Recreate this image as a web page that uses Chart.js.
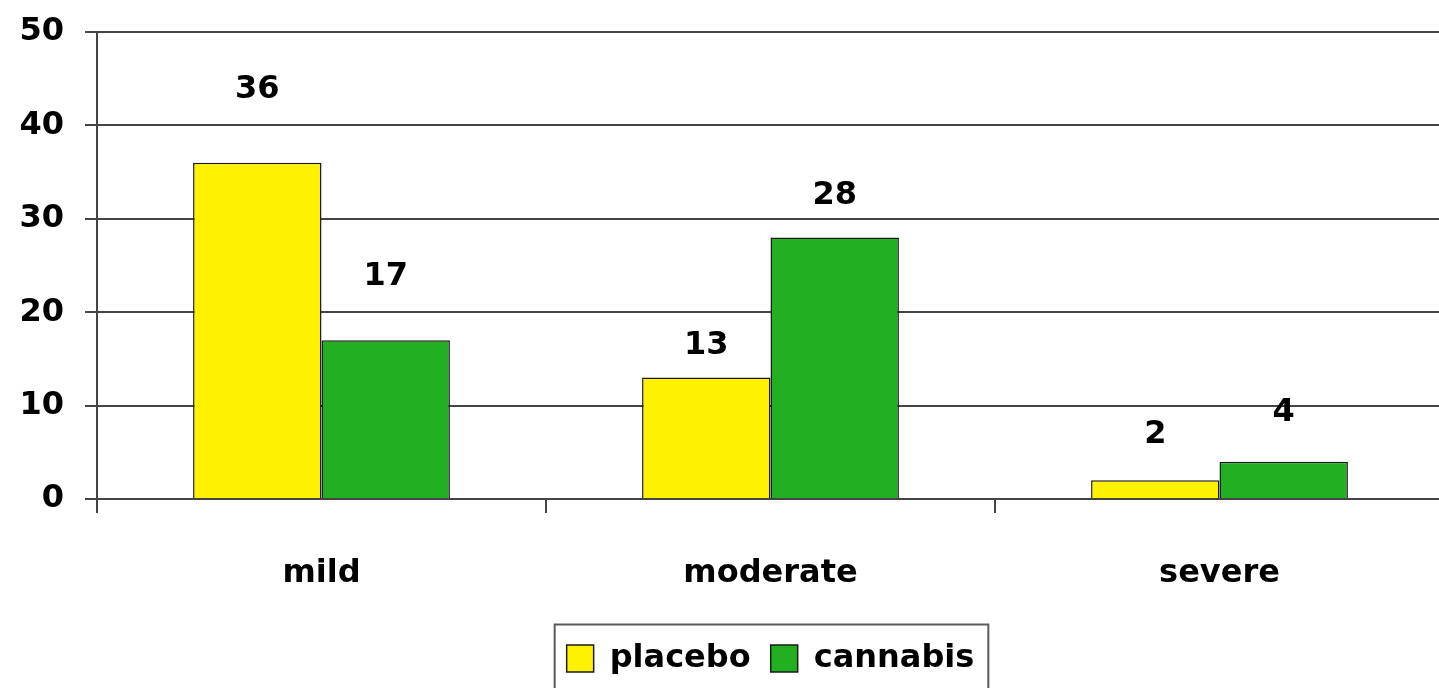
<!DOCTYPE html>
<html>
<head>
<meta charset="utf-8">
<script src="https://cdn.jsdelivr.net/npm/chart.js@4.4.1/dist/chart.umd.min.js"></script>
<style>
  html, body { margin: 0; padding: 0; background: #ffffff; overflow: hidden; }
  #wrap { width: 1450px; height: 688px; position: relative; }
</style>
</head>
<body>
<div id="wrap"><canvas id="chart"></canvas></div>
<script>
// Severity categories and counts per group
const categories = ['mild', 'moderate', 'severe'];
const placebo = [36, 13, 2];
const cannabis = [17, 28, 4];
const yTicks = [0, 10, 20, 30, 40, 50];

const FONT = { family: '"DejaVu Sans", sans-serif', size: 32, weight: 'bold' };
const LINE = '#444444';

// Value labels drawn above each bar, with a per-bar vertical lift (px)
const valueLabels = {
  id: 'valueLabels',
  afterDatasetsDraw(chart, args, opts) {
    const ctx = chart.ctx;
    ctx.save();
    ctx.font = `${FONT.weight} ${FONT.size}px ${FONT.family}`;
    ctx.fillStyle = '#000';
    ctx.textAlign = 'center';
    ctx.textBaseline = 'middle';
    chart.data.datasets.forEach((ds, di) => {
      chart.getDatasetMeta(di).data.forEach((bar, i) => {
        const lift = opts.lift[di][i];
        ctx.fillText(String(ds.data[i]), bar.x, bar.y - lift);
      });
    });
    ctx.restore();
  }
};

// Frame around the legend entries
const legendFrame = {
  id: 'legendFrame',
  afterDraw(chart) {
    const boxes = chart.legend && chart.legend.legendHitBoxes;
    if (!boxes || !boxes.length) return;
    const first = boxes[0], last = boxes[boxes.length - 1];
    const ctx = chart.ctx;
    ctx.save();
    ctx.strokeStyle = '#5a5a5a';
    ctx.lineWidth = 2;
    const l = first.left - 12, r = last.left + last.width + 14;
    const t = first.top - 18;
    ctx.strokeRect(l, t, r - l, chart.height + 20 - t);
    ctx.restore();
  }
};

new Chart(document.getElementById('chart'), {
  type: 'bar',
  data: {
    labels: categories,
    datasets: [
      { label: 'placebo', data: placebo, backgroundColor: '#FFF200', borderColor: '#1a1a1a', borderWidth: 1.5 },
      { label: 'cannabis', data: cannabis, backgroundColor: '#22B022', borderColor: '#1a1a1a', borderWidth: 1.5 }
    ]
  },
  plugins: [valueLabels, legendFrame],
  options: {
    responsive: true,
    maintainAspectRatio: false,
    animation: false,
    layout: { padding: { top: 32, left: 0, right: 6, bottom: 3.5 } },
    datasets: { bar: { categoryPercentage: 0.572, barPercentage: 1.0 } },
    scales: {
      x: {
        grid: { drawOnChartArea: false, drawTicks: true, tickLength: 14, color: LINE, lineWidth: 2 },
        border: { color: LINE, width: 2 },
        ticks: { color: '#000', font: FONT, padding: 41 },
        afterFit(scale) { scale.height = 123.5; }
      },
      y: {
        min: 0, max: 50,
        afterBuildTicks(scale) { scale.ticks = yTicks.map(v => ({ value: v })); },
        grid: { color: LINE, lineWidth: 2, tickLength: 12 },
        border: { color: LINE, width: 2 },
        ticks: { color: '#000', font: FONT, padding: 21 },
        afterFit(scale) {
          scale.width = 97;
          scale.paddingTop = 0;
          scale.paddingBottom = 0;
        }
      }
    },
    plugins: {
      legend: {
        position: 'bottom',
        fullSize: false,
        labels: { color: '#000', font: FONT, boxWidth: 27, boxHeight: 27, padding: 20 }
      },
      tooltip: { enabled: false },
      valueLabels: { lift: [[73, 32, 46], [64, 42, 49]] }
    }
  }
});
</script>
</body>
</html>
